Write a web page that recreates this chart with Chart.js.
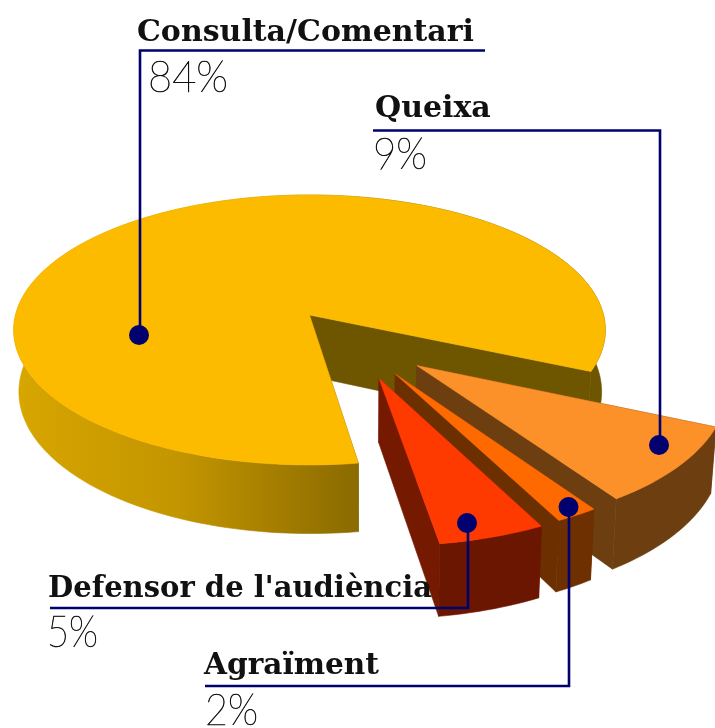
<!DOCTYPE html>
<html><head><meta charset="utf-8">
<style>html,body{margin:0;padding:0;background:#fff}canvas{display:block}</style>
<script src="https://cdn.jsdelivr.net/npm/chart.js@4"></script>
</head><body><canvas id="c" width="715" height="728"></canvas>
<script>
const categories = ["Consulta/Comentari", "Queixa", "Agraïment", "Defensor de l'audiència"];
const percents = [84, 9, 2, 5];
const topColors = ["#fdbb00", "#fb9128", "#ff6a00", "#ff3a00"];
const wallColors = ["#6e5500", "#6d3f10", "#6b2f00", "#751900"];
const rimColors = ["#6e5500", "#6d3f10", "#6e3000", "#6a1600"];
const explodeRatio = [0, 0.505, 0.505, 0.505];
const explodeTurnDeg = [0, 6, -3.3, -8.9];

const RADIUS = 200;
const VIEW = { dx: -48, dy: -49, rx: 294, ry: 133.3, persp: 0.111, depth: 61, vx: 360, shrink: 0.015 };
const NAVY = "#00006e";
const ANNOT = [
  { name:{x:137,y:41,w:337}, pct:{x:148,y:92,w:80},  line:[[485,50.5],[140,50.5],[140,335]], dot:[139,335] },
  { name:{x:375,y:117,w:116}, pct:{x:373,y:169,w:54}, line:[[373,130.5],[660,130.5],[660,445]], dot:[659,445] },
  { name:{x:204,y:674,w:175}, pct:{x:205,y:725,w:53}, line:[[205,686],[569,686],[569,507]], dot:[568.5,507] },
  { name:{x:48,y:597,w:384}, pct:{x:47,y:647,w:51},  line:[[50,608],[468,608],[468,523]], dot:[467,523] }
];

function sideFill(ctx, i, base) {
  if (i !== 0) return base;
  const g = ctx.createLinearGradient(15, 0, 600, 0);
  g.addColorStop(0, "#d8a600");
  g.addColorStop(0.28, "#c39500");
  g.addColorStop(0.59, "#8a6a00");
  g.addColorStop(0.62, "#6e5500");
  g.addColorStop(1, "#6e5500");
  return g;
}

const pie3d = {
  id: "pie3d",
  beforeDatasetsDraw(chart) {
    const ctx = chart.ctx;
    const arcs = chart.getDatasetMeta(0).data;
    arcs.forEach((el, i) => {
      const p = el.getProps(["x", "y", "startAngle", "endAngle", "outerRadius"], true);
      const R = p.outerRadius;
      const mid = (p.startAngle + p.endAngle) / 2 + explodeTurnDeg[i] * Math.PI / 180;
      const off = el.options.offset / R;
      const ox = off * Math.cos(mid), oy = off * Math.sin(mid);
      const proj = (u, v, z) => {
        const w = 1 - VIEW.persp * v;
        let x = p.x + VIEW.dx + VIEW.rx * u / w;
        const y = p.y + VIEW.dy + (VIEW.ry * v + VIEW.depth * z) / w;
        if (z) x = VIEW.vx + (x - VIEW.vx) * (1 - VIEW.shrink);
        return [x, y];
      };
      const rimPts = [];
      const steps = Math.max(8, Math.ceil((p.endAngle - p.startAngle) * 40));
      for (let k = 0; k <= steps; k++) {
        const a = p.startAngle + (p.endAngle - p.startAngle) * k / steps;
        rimPts.push([ox + Math.cos(a), oy + Math.sin(a)]);
      }
      const face = (pts, fill) => {
        ctx.beginPath();
        pts.forEach((q, n) => n ? ctx.lineTo(q[0], q[1]) : ctx.moveTo(q[0], q[1]));
        ctx.closePath();
        ctx.fillStyle = fill; ctx.strokeStyle = fill; ctx.lineWidth = 0.6;
        ctx.fill(); ctx.stroke();
      };
      const wall = (q) => face([proj(ox, oy, 0), proj(q[0], q[1], 0), proj(q[0], q[1], 1), proj(ox, oy, 1)], wallColors[i]);
      ctx.save();
      wall(rimPts[0]);
      wall(rimPts[rimPts.length - 1]);
      const rim = rimPts.map(q => proj(q[0], q[1], 0))
        .concat(rimPts.slice().reverse().map(q => proj(q[0], q[1], 1)));
      face(rim, sideFill(ctx, i, rimColors[i]));
      const topFace = [proj(ox, oy, 0)].concat(rimPts.map(q => proj(q[0], q[1], 0)));
      face(topFace, el.options.backgroundColor);
      ctx.restore();
    });
    return false;
  },
  afterDraw(chart) {
    const ctx = chart.ctx;
    ctx.save();
    ANNOT.forEach((a, i) => {
      ctx.strokeStyle = NAVY; ctx.lineWidth = 2.6; ctx.lineJoin = "miter";
      ctx.beginPath();
      a.line.forEach((q, n) => n ? ctx.lineTo(q[0], q[1]) : ctx.moveTo(q[0], q[1]));
      ctx.stroke();
      ctx.fillStyle = NAVY;
      ctx.beginPath(); ctx.arc(a.dot[0], a.dot[1], 10, 0, Math.PI * 2); ctx.fill();
      ctx.textBaseline = "alphabetic"; ctx.textAlign = "left";
      ctx.fillStyle = "#111";
      ctx.font = "bold 30px 'DejaVu Serif'";
      ctx.fillText(categories[i], a.name.x, a.name.y, a.name.w);
      ctx.fillStyle = "#111"; ctx.strokeStyle = "#111"; ctx.lineWidth = 0.7;
      ctx.font = "200 44px Lato";
      ctx.fillText(percents[i] + "%", a.pct.x, a.pct.y, a.pct.w);
      ctx.strokeText(percents[i] + "%", a.pct.x, a.pct.y, a.pct.w);
    });
    ctx.restore();
  }
};

new Chart(document.getElementById("c"), {
  type: "pie",
  data: { labels: categories, datasets: [{
    data: percents,
    backgroundColor: topColors,
    borderWidth: 0,
    offset: explodeRatio.map(r => r * RADIUS)
  }]},
  options: {
    responsive: false, animation: false, rotation: 171.5, radius: RADIUS,
    layout: { padding: 0 },
    plugins: { legend: { display: false }, tooltip: { enabled: false } }
  },
  plugins: [pie3d]
});
</script></body></html>
